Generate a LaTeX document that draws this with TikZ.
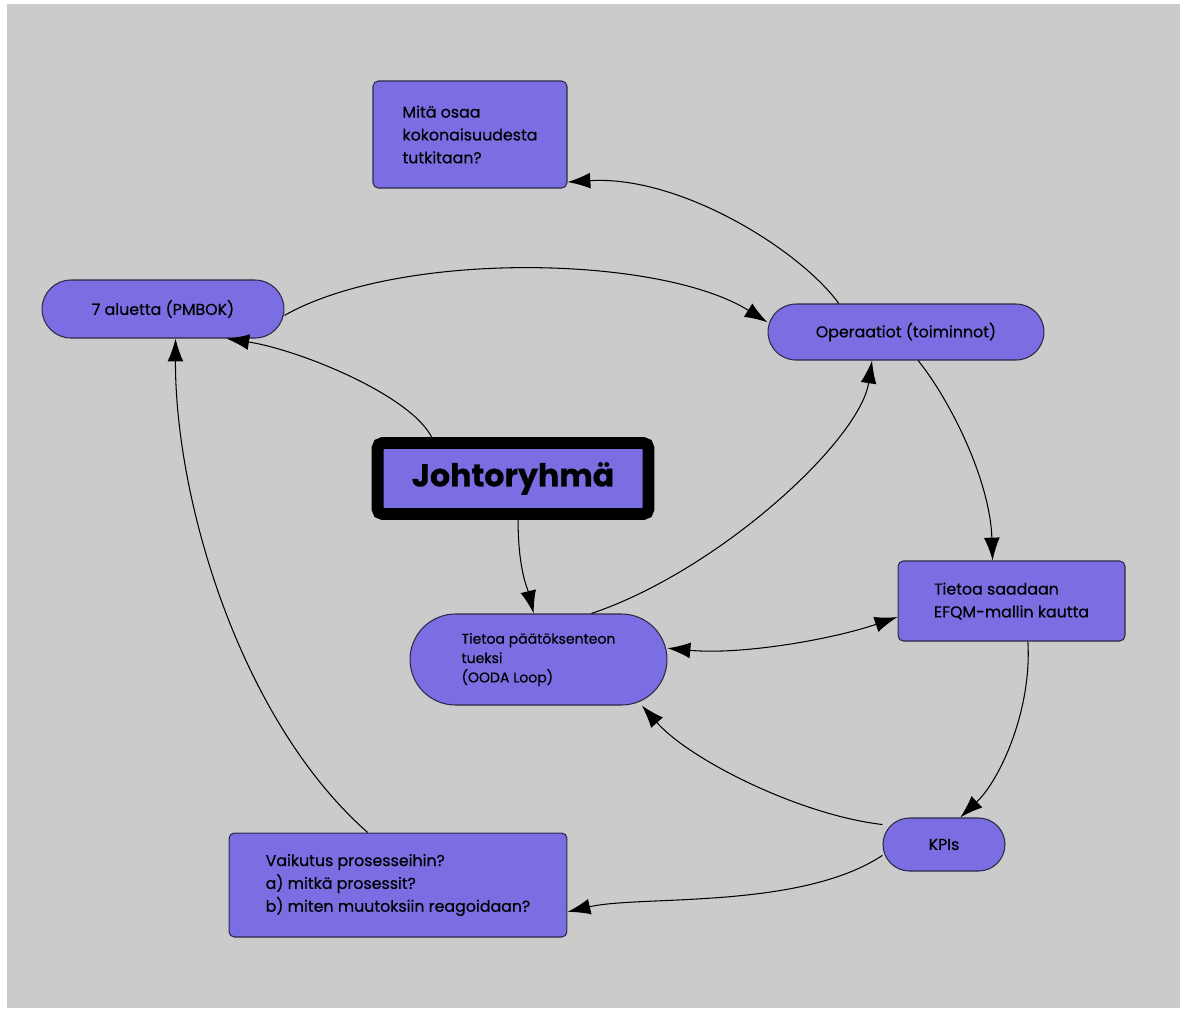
\documentclass[tikz,border=0pt]{standalone}
\usepackage{fontspec}
\setmainfont{Poppins}[FakeBold=0.4]
\usepackage{xcolor}
\usetikzlibrary{arrows.meta}
\definecolor{bggray}{RGB}{203,203,203}
\definecolor{boxblue}{RGB}{123,110,226}
\definecolor{rimdark}{RGB}{45,40,70}

\begin{document}
\begin{tikzpicture}[x=0.02cm, y=-0.02cm,
        box/.style={draw=rimdark, line width=0.6pt, fill=boxblue, rounded corners=3pt,
            align=left, inner sep=0pt, font=\fontsize{9}{13}\selectfont},
        pill/.style={box, align=center},
        link/.style={-{Latex[length=13pt, width=9pt]}, line width=0.6pt, black}]

        % Background
        \useasboundingbox[fill=white] (0,0) rectangle (1187,1009);
        \fill[bggray] (7,4) rectangle (1180,1008);

        % Boxes
        \node[box, minimum width=3.88cm, minimum height=2.14cm] (scope) at (470,134.5)
            {Mitä osaa\\kokonaisuudesta\\tutkitaan?};
        \node[pill, rounded corners=0.58cm, minimum width=4.84cm, minimum height=1.16cm] (pmbok) at (163,309)
            {7 aluetta (PMBOK)};
        \node[pill, rounded corners=0.56cm, minimum width=5.52cm, minimum height=1.12cm] (ops) at (906,332)
            {Operaatiot (toiminnot)};
        \node[draw=black, line width=6.8pt, fill=boxblue, rounded corners=3pt,
            minimum width=5.42cm, minimum height=1.42cm, font=\fontsize{18}{20}\selectfont\bfseries] (johto) at (513,478.5)
            {Johtoryhmä};
        \node[box, rounded corners=0.91cm, minimum width=5.14cm, minimum height=1.82cm,
            font=\fontsize{8}{11}\selectfont] (ooda) at (538.5,659.5)
            {Tietoa päätöksenteon\\tueksi\\(OODA Loop)};
        \node[box, minimum width=4.54cm, minimum height=1.6cm] (efqm) at (1011.5,601)
            {Tietoa saadaan\\EFQM-mallin kautta};
        \node[pill, rounded corners=0.53cm, minimum width=2.44cm, minimum height=1.06cm] (kpi) at (944,844.5)
            {KPIs};
        \node[box, minimum width=6.76cm, minimum height=2.08cm] (impact) at (398,885)
            {Vaikutus prosesseihin?\\a) mitkä prosessit?\\b) miten muutoksiin reagoidaan?};

        % Arrows
        \draw[link] (ops.157) .. controls (800,250) and (680,175) .. (scope.-26);
        \draw[link] (pmbok.-3) .. controls (400,250) and (660,255) .. (ops.176);
        \draw[link] (johto.153) .. controls (410,395) and (300,350) .. (pmbok.-25);
        \draw[link] (ooda.41) .. controls (720,570) and (860,440) .. (ops.220);
        \draw[link] (johto.-83) .. controls (518,570) and (528,590) .. (ooda.96);
        \draw[link] (ops.-67) .. controls (950,400) and (990,480) .. (efqm.115);
        \draw[{Latex[length=13pt, width=9pt]}-{Latex[length=13pt, width=9pt]}, line width=0.6pt]
            (ooda.5) .. controls (740,655) and (830,640) .. (efqm.188);
        \draw[link] (efqm.-68) .. controls (1032,710) and (1000,780) .. (kpi.59);
        \draw[link] (kpi.162) .. controls (800,815) and (690,760) .. (ooda.-24);
        \draw[link] (kpi.190) .. controls (800,910) and (640,895) .. (impact.-9);
        \draw[link] (impact.120) .. controls (240,720) and (175,500) .. (pmbok.-67.5);

\end{tikzpicture}
\end{document}
